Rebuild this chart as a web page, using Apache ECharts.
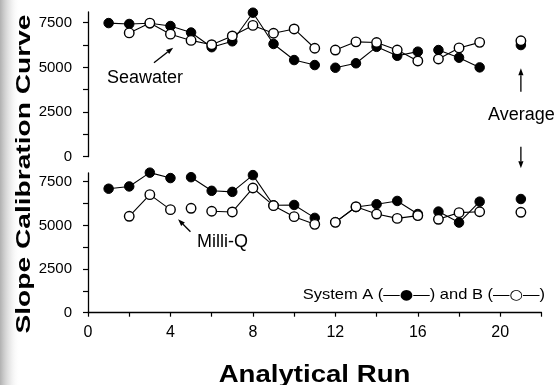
<!DOCTYPE html>
<html><head><meta charset="utf-8">
<script src="https://cdn.jsdelivr.net/npm/echarts@6/dist/echarts.min.js"></script>
<style>html,body{margin:0;padding:0;background:#fff}#c{width:556px;height:385px}</style>
</head><body><div id="c"></div>
<script>
// ---- data ----
const runs = [1,2,3,4,5,6,7,8,9,10,11,12,13,14,15,16,17,18,19,21];
const seawaterA = [7480,7430,7470,7315,6950,6130,6460,8060,6310,5410,5130,4980,5230,6150,5650,5880,5970,5540,5000,6250];
const seawaterB = [null,6930,7480,6860,6510,6270,6760,7350,6910,7150,6070,5970,6430,6390,5970,5360,5470,6090,6400,6490];
const milliqA = [7100,7230,8020,7710,7760,6980,6920,7880,6150,6170,5430,5190,6050,6210,6400,5650,5790,5160,6360,6510];
const milliqB = [null,5520,6760,5900,5980,5810,5770,7140,6130,5500,5060,5175,6070,5650,5400,5560,5350,5730,5780,5750];
// runs after which the connecting line is interrupted
const seawaterABreaks = [11,16,19];
const seawaterBBreaks = [11,16,19];
const milliqABreaks = [4,11,16,19];
const milliqBBreaks = [4,5,11,16,19];
const xLabelValues = [0,4,8,12,16,20];
const xTickValues = [0,2,4,6,8,10,12,14,16,18,20,22];
const yLabelValues = [0,2500,5000,7500];
const yTickValues = [0,1250,2500,3750,5000,6250,7500];

const FONT = 'Liberation Sans, Arial, Helvetica, sans-serif';

function lineData(vals, breaks){
  const out = [];
  runs.forEach((r,i)=>{
    if (vals[i] !== null) out.push([r, vals[i]]);
    if (breaks.indexOf(r) >= 0) out.push([r+0.5, '-']);
  });
  return out;
}

const chart = echarts.init(document.getElementById('c'), null, {renderer:'canvas'});

function xAxisCfg(gi, show){
  return {
    type:'value', gridIndex:gi, min:0, max:22, show:show,
    axisLine:{show:true, onZero:false, lineStyle:{color:'#000', width:1.3}},
    axisTick:{show:true, length:4, customValues:xTickValues, lineStyle:{color:'#000', width:1.2}},
    axisLabel:{show:true, customValues:xLabelValues, color:'#000', fontSize:16, fontFamily:FONT, margin:12,
      formatter:function(v){return String(v);}},
    splitLine:{show:false}
  };
}
function yAxisCfg(gi, max){
  return {
    type:'value', gridIndex:gi, min:0, max:max, interval:2500,
    axisLine:{show:true, onZero:false, lineStyle:{color:'#000', width:1.3}},
    axisTick:{show:true, length:5, customValues:yTickValues, lineStyle:{color:'#000', width:1.2}},
    axisLabel:{show:true, customValues:yLabelValues, color:'#000', fontSize:15, fontFamily:FONT, margin:16,
      formatter:function(v){return String(v);}},
    splitLine:{show:false}
  };
}
function seriesCfg(name, vals, breaks, gi, filled){
  return {
    name:name, type:'line', xAxisIndex:gi, yAxisIndex:gi,
    data: lineData(vals, breaks),
    connectNulls:false, showAllSymbol:true,
    symbol:'circle', symbolSize:9.5,
    lineStyle:{color:'#000', width:1.1},
    itemStyle: filled ? {color:'#000', borderColor:'#000', borderWidth:1} : {color:'#fff', borderColor:'#000', borderWidth:1.4},
    emphasis:{disabled:true}, animation:false, clip:false
  };
}

chart.setOption({
  animation:false,
  backgroundColor:'#fff',
  grid:[
    {left:88, right:14.5, top:12, height:144.7, containLabel:false},
    {left:88, right:14.5, top:173, height:139.7, containLabel:false}
  ],
  xAxis:[xAxisCfg(0,false), xAxisCfg(1,true)],
  yAxis:[yAxisCfg(0,8100), yAxisCfg(1,8000)],
  series:[
    seriesCfg('Seawater A', seawaterA, seawaterABreaks, 0, true),
    seriesCfg('Seawater B', seawaterB, seawaterBBreaks, 0, false),
    seriesCfg('Milli-Q A', milliqA, milliqABreaks, 1, true),
    seriesCfg('Milli-Q B', milliqB, milliqBBreaks, 1, false)
  ]
});

// annotation arrows in data coordinates
const arrows = [
  {grid:0, from:[3.2,5260], to:[4.13,6100]},
  {grid:1, from:[4.97,4640], to:[4.37,5350]},
  {grid:0, from:[21,3640], to:[21,4950]},
  {grid:0, from:[21,560], to:[21,-650]}
];
const els = [];
els.push({type:'rect', shape:{x:0,y:0,width:20,height:385}, silent:true,
  style:{fill:new echarts.graphic.LinearGradient(0,0,1,0,[{offset:0,color:'rgba(150,150,150,0.75)'},{offset:0.5,color:'rgba(200,200,200,0.4)'},{offset:1,color:'rgba(255,255,255,0)'}])}});
arrows.forEach(a=>{
  const p0 = chart.convertToPixel({gridIndex:a.grid}, a.from);
  const p1 = chart.convertToPixel({gridIndex:a.grid}, a.to);
  const dx=p1[0]-p0[0], dy=p1[1]-p0[1], L=Math.hypot(dx,dy), ux=dx/L, uy=dy/L;
  const hl=7, hw=2.6;
  const bx=p1[0]-ux*hl, by=p1[1]-uy*hl;
  els.push({type:'line', silent:true, shape:{x1:p0[0],y1:p0[1],x2:bx,y2:by}, style:{stroke:'#000', lineWidth:1.3}});
  els.push({type:'polygon', silent:true, shape:{points:[[p1[0],p1[1]],[bx-uy*hw,by+ux*hw],[bx+uy*hw,by-ux*hw]]}, style:{fill:'#000'}});
});
function txt(text, x, y, size, opts){
  opts = opts || {};
  const st = {text:text, fill:'#000', font:(opts.bold?'bold ':'')+size+'px '+FONT,
      textAlign:opts.align||'left', textVerticalAlign:'middle', align:opts.align||'left', verticalAlign:'middle'};
  if (opts.rich) st.rich = opts.rich;
  return {type:'text', silent:true, x:x, y:y, rotation:opts.rotation||0, scaleX:opts.scaleX||1, scaleY:1, style:st};
}
els.push(txt('Seawater', 107, 78.5, 18));
els.push(txt('Milli-Q', 197, 242, 18));
els.push(txt('Average', 488, 115.5, 18));
els.push(txt('System A (\u2014{s|\u25CF}\u2014) and B (\u2014{s|\u25CB}\u2014)', 545, 295, 15,
  {align:'right', scaleX:1.1, rich:{s:{font:'14px DejaVu Sans, sans-serif', fill:'#000', verticalAlign:'middle'}}}));
els.push(txt('Analytical Run', 314.5, 376, 23, {bold:true, align:'center', scaleX:1.2}));
els.push(txt('Slope Calibration Curve', 24, 174, 21, {bold:true, align:'center', rotation:Math.PI/2, scaleX:1.34}));
chart.setOption({graphic:{elements:els}});
</script>
</body></html>
